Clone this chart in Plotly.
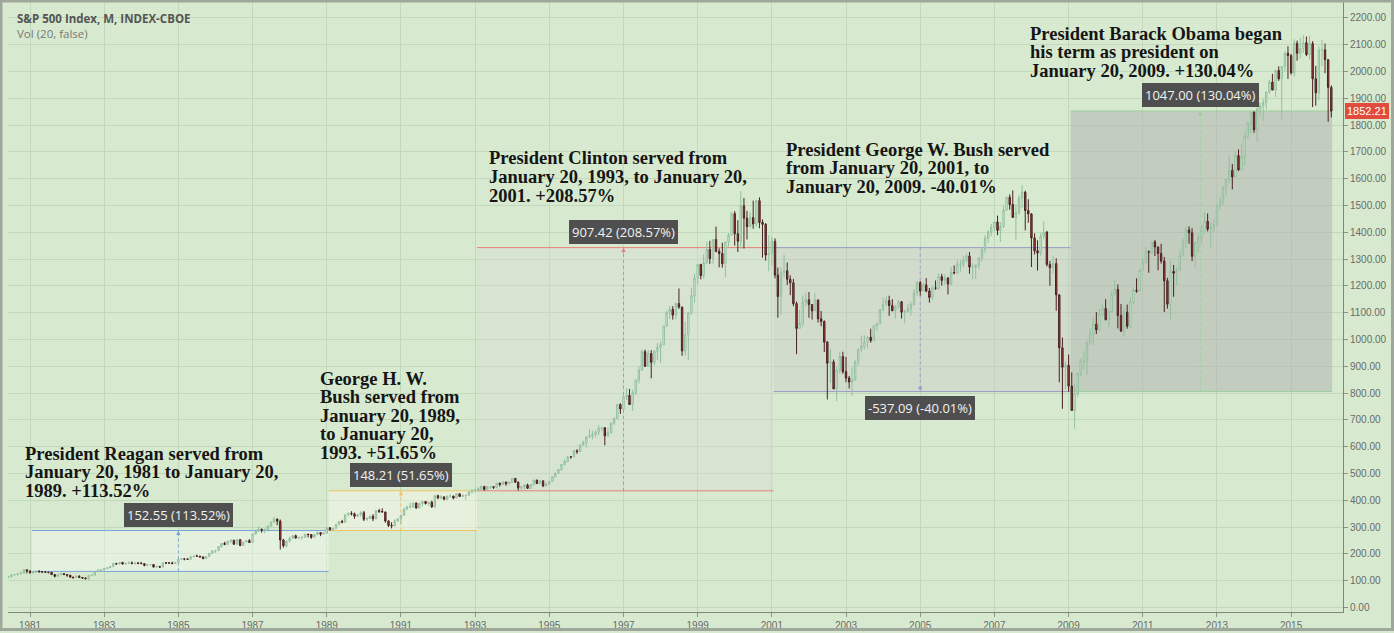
import plotly.graph_objects as go
import pandas as pd

# ---------------- data (monthly S&P 500, Jun 1980 - Feb 2016) ----------------
first_open = 111.24
close = [
    114.24, 121.67, 122.38, 125.46, 127.47, 140.52, 135.76,
    129.55, 131.27, 136.00, 132.81, 132.59, 131.21, 130.92, 122.79, 116.18, 121.89, 126.35, 122.55,
    120.40, 113.11, 111.96, 116.44, 111.88, 109.61, 107.09, 119.51, 120.42, 133.71, 138.54, 140.64,
    145.30, 148.06, 152.96, 164.42, 162.39, 168.11, 162.56, 164.40, 166.07, 163.55, 166.40, 164.93,
    163.41, 157.06, 159.18, 160.05, 150.55, 153.18, 150.66, 166.68, 166.10, 166.09, 163.58, 167.24,
    179.63, 181.18, 180.66, 179.83, 189.55, 191.85, 190.92, 188.63, 182.08, 189.82, 202.17, 211.28,
    211.78, 226.92, 238.90, 235.52, 247.35, 250.84, 236.12, 252.93, 231.32, 243.98, 249.22, 242.17,
    274.08, 284.20, 291.70, 288.36, 290.10, 304.00, 318.66, 329.80, 321.83, 251.79, 230.30, 247.08,
    257.07, 267.82, 258.89, 261.33, 262.16, 273.50, 272.02, 261.52, 271.91, 278.97, 273.70, 277.72,
    297.47, 288.86, 294.87, 309.64, 320.52, 317.98, 346.08, 351.45, 349.15, 340.36, 345.99, 353.40,
    329.08, 331.89, 339.94, 330.80, 361.23, 358.02, 356.15, 322.56, 306.05, 304.00, 322.22, 330.22,
    343.93, 367.07, 375.22, 375.35, 389.83, 371.16, 387.81, 395.43, 387.86, 392.46, 375.22, 417.09,
    408.79, 412.70, 403.69, 414.95, 415.35, 408.14, 424.21, 414.03, 417.80, 418.68, 431.35, 435.71,
    438.78, 443.38, 451.67, 440.19, 450.19, 450.53, 448.13, 463.56, 458.93, 467.83, 461.79, 466.45,
    481.61, 467.14, 445.77, 450.91, 456.50, 444.27, 458.26, 475.49, 462.69, 472.35, 453.69, 459.27,
    470.42, 487.39, 500.71, 514.71, 533.40, 544.75, 562.06, 561.88, 584.41, 581.50, 605.37, 615.93,
    636.02, 640.43, 645.50, 654.17, 669.12, 670.63, 639.95, 651.99, 687.31, 705.27, 757.02, 740.74,
    786.16, 790.82, 757.12, 801.34, 848.28, 885.14, 954.31, 899.47, 947.28, 914.62, 955.40, 970.43,
    980.28, 1049.34, 1101.75, 1111.75, 1090.82, 1133.84, 1120.67, 957.28, 1017.01, 1098.67, 1163.63, 1229.23,
    1279.64, 1238.33, 1286.37, 1335.18, 1301.84, 1372.71, 1328.72, 1320.41, 1282.71, 1362.93, 1388.91, 1469.25,
    1394.46, 1366.42, 1498.58, 1452.43, 1420.60, 1454.60, 1430.83, 1517.68, 1436.51, 1429.40, 1314.95, 1320.28,
    1366.01, 1239.94, 1160.33, 1249.46, 1255.82, 1224.42, 1211.23, 1133.58, 1040.94, 1059.78, 1139.45, 1148.08,
    1130.20, 1106.73, 1147.39, 1076.92, 1067.14, 989.82, 911.62, 916.07, 815.28, 885.76, 936.31, 879.82,
    855.70, 841.15, 848.18, 916.92, 963.59, 974.50, 990.31, 1008.01, 995.97, 1050.71, 1058.20, 1111.92,
    1131.13, 1144.94, 1126.21, 1107.30, 1120.68, 1140.84, 1101.72, 1104.24, 1114.58, 1130.20, 1173.82, 1211.92,
    1181.27, 1203.60, 1180.59, 1156.85, 1191.50, 1191.33, 1234.18, 1220.33, 1228.81, 1207.01, 1249.48, 1248.29,
    1280.08, 1280.66, 1294.83, 1310.61, 1270.09, 1270.20, 1276.66, 1303.82, 1335.85, 1377.94, 1400.63, 1418.30,
    1438.24, 1406.82, 1420.86, 1482.37, 1530.62, 1503.35, 1455.27, 1473.99, 1526.75, 1549.38, 1481.14, 1468.36,
    1378.55, 1330.63, 1322.70, 1385.59, 1400.38, 1280.00, 1267.38, 1282.83, 1166.36, 968.75, 896.24, 903.25,
    825.88, 735.09, 797.87, 872.81, 919.14, 919.32, 987.48, 1020.62, 1057.08, 1036.19, 1095.63, 1115.10,
    1073.87, 1104.49, 1169.43, 1186.69, 1089.41, 1030.71, 1101.60, 1049.33, 1141.20, 1183.26, 1180.55, 1257.64,
    1286.12, 1327.22, 1325.83, 1363.61, 1345.20, 1320.64, 1292.28, 1218.89, 1131.42, 1253.30, 1246.96, 1257.60,
    1312.41, 1365.68, 1408.47, 1397.91, 1310.33, 1362.16, 1379.32, 1406.58, 1440.67, 1412.16, 1416.18, 1426.19,
    1498.11, 1514.68, 1569.19, 1597.57, 1630.74, 1606.28, 1685.73, 1632.97, 1681.55, 1756.54, 1805.81, 1848.36,
    1782.59, 1859.45, 1872.34, 1883.95, 1923.57, 1960.23, 1930.67, 2003.37, 1972.29, 2018.05, 2067.56, 2058.90,
    1994.99, 2104.50, 2067.89, 2085.51, 2107.39, 2063.11, 2103.84, 1972.18, 1920.03, 2079.36, 2080.41, 2043.94,
    1940.24, 1852.21,
]
high = [
    117, 123, 126, 130, 134, 141, 141,
    139, 134, 137, 138, 134, 134, 133, 133, 124, 124, 127, 127,
    123, 121, 114, 119, 120, 112, 112, 120, 124, 137, 144, 144,
    147, 149, 154, 165, 166, 169, 170, 165, 172, 172, 168, 167,
    170, 164, 160, 162, 161, 155, 154, 168, 169, 168, 171, 168,
    180, 184, 184, 183, 190, 192, 197, 193, 190, 191, 203, 212,
    214, 227, 239, 245, 248, 251, 252, 254, 254, 244, 250, 255,
    275, 285, 302, 294, 295, 306, 320, 338, 331, 328, 256, 249,
    264, 268, 272, 264, 263, 274, 274, 274, 273, 284, 280, 280,
    298, 300, 298, 311, 323, 327, 347, 354, 359, 354, 347, 359,
    360, 337, 344, 348, 362, 368, 370, 357, 325, 318, 329, 333,
    345, 370, 380, 391, 391, 392, 391, 396, 396, 394, 398, 418,
    421, 418, 413, 418, 422, 417, 425, 425, 423, 419, 432, 441,
    443, 449, 456, 452, 454, 452, 452, 464, 465, 470, 469, 471,
    483, 483, 470, 453, 460, 462, 459, 477, 476, 474, 473, 466,
    473, 489, 504, 515, 534, 552, 564, 565, 587, 590, 608, 622,
    638, 665, 660, 660, 680, 673, 673, 670, 690, 709, 758, 762,
    794, 818, 815, 812, 850, 899, 962, 962, 960, 960, 961, 987,
    993, 1051, 1106, 1125, 1124, 1139, 1190, 1122, 1066, 1104, 1193, 1245,
    1280, 1282, 1317, 1363, 1368, 1373, 1421, 1340, 1361, 1365, 1397, 1474,
    1479, 1445, 1553, 1528, 1480, 1475, 1518, 1521, 1530, 1448, 1434, 1390,
    1383, 1377, 1268, 1270, 1316, 1287, 1239, 1226, 1141, 1110, 1164, 1173,
    1177, 1131, 1173, 1148, 1106, 1071, 994, 965, 925, 901, 954, 954,
    935, 864, 895, 924, 965, 1015, 1015, 1012, 1040, 1054, 1063, 1112,
    1155, 1159, 1163, 1150, 1128, 1147, 1142, 1110, 1132, 1141, 1188, 1218,
    1218, 1212, 1229, 1192, 1199, 1220, 1246, 1245, 1243, 1233, 1270, 1276,
    1295, 1297, 1311, 1319, 1326, 1285, 1281, 1307, 1340, 1389, 1407, 1431,
    1441, 1462, 1438, 1499, 1533, 1541, 1556, 1504, 1538, 1576, 1555, 1523,
    1471, 1396, 1370, 1397, 1441, 1405, 1293, 1314, 1303, 1167, 1007, 918,
    944, 877, 833, 877, 930, 956, 996, 1040, 1081, 1102, 1114, 1130,
    1150, 1113, 1181, 1220, 1205, 1132, 1120, 1130, 1158, 1196, 1228, 1263,
    1302, 1344, 1332, 1364, 1371, 1346, 1357, 1308, 1230, 1293, 1278, 1269,
    1333, 1378, 1420, 1422, 1415, 1364, 1392, 1427, 1475, 1470, 1438, 1448,
    1504, 1530, 1570, 1598, 1688, 1655, 1698, 1709, 1730, 1775, 1814, 1849,
    1850, 1867, 1884, 1897, 1925, 1968, 1991, 2006, 2019, 2019, 2075, 2094,
    2065, 2120, 2115, 2126, 2135, 2130, 2133, 2113, 2021, 2094, 2117, 2104,
    2044, 1948,
]
low = [
    110, 113, 118, 119, 124, 126, 127,
    126, 126, 130, 131, 128, 129, 127, 122, 112, 116, 121, 122,
    114, 111, 107, 111, 111, 106, 106, 101, 117, 120, 131, 136,
    138, 143, 147, 150, 159, 160, 160, 159, 163, 162, 161, 161,
    163, 153, 153, 157, 150, 149, 147, 150, 162, 162, 162, 162,
    163, 178, 176, 177, 178, 186, 189, 186, 180, 181, 189, 200,
    203, 211, 224, 232, 234, 240, 233, 235, 228, 230, 243, 241,
    242, 272, 283, 279, 277, 289, 302, 317, 307, 216, 223, 224,
    242, 255, 257, 255, 253, 259, 261, 256, 261, 270, 266, 271,
    274, 288, 287, 294, 306, 314, 316, 339, 343, 331, 337, 339,
    322, 323, 330, 322, 329, 352, 355, 316, 300, 295, 303, 320,
    311, 343, 363, 370, 371, 368, 370, 377, 384, 379, 372, 372,
    404, 404, 400, 400, 410, 403, 408, 413, 413, 402, 418, 425,
    426, 433, 437, 436, 437, 442, 442, 444, 451, 456, 454, 460,
    464, 465, 436, 435, 440, 442, 444, 455, 460, 459, 449, 452,
    457, 469, 485, 500, 510, 530, 542, 555, 561, 573, 581, 605,
    597, 634, 627, 634, 642, 658, 605, 638, 648, 681, 702, 722,
    737, 774, 756, 733, 793, 836, 882, 899, 898, 855, 904, 923,
    912, 979, 1047, 1076, 1074, 1075, 1114, 939, 940, 923, 1092, 1137,
    1205, 1224, 1227, 1282, 1282, 1282, 1325, 1269, 1268, 1233, 1347, 1387,
    1350, 1326, 1339, 1339, 1373, 1418, 1413, 1420, 1415, 1305, 1294, 1254,
    1275, 1228, 1081, 1091, 1232, 1203, 1165, 1124, 945, 1040, 1048, 1123,
    1081, 1074, 1106, 1063, 1049, 953, 776, 838, 815, 769, 872, 872,
    840, 817, 789, 848, 902, 952, 962, 966, 988, 995, 1031, 1057,
    1105, 1124, 1088, 1105, 1077, 1114, 1078, 1060, 1099, 1090, 1128, 1162,
    1163, 1180, 1176, 1137, 1146, 1185, 1184, 1201, 1205, 1168, 1201, 1243,
    1245, 1253, 1268, 1288, 1245, 1224, 1225, 1262, 1291, 1323, 1360, 1385,
    1403, 1389, 1364, 1416, 1480, 1484, 1454, 1371, 1465, 1490, 1407, 1435,
    1270, 1317, 1257, 1312, 1374, 1272, 1200, 1247, 1107, 840, 741, 815,
    805, 734, 667, 784, 861, 889, 869, 978, 979, 1020, 1030, 1086,
    1071, 1045, 1102, 1164, 1041, 1029, 1011, 1040, 1041, 1131, 1174, 1179,
    1257, 1284, 1249, 1319, 1311, 1258, 1283, 1102, 1115, 1075, 1159, 1202,
    1257, 1312, 1341, 1357, 1292, 1267, 1325, 1355, 1397, 1403, 1344, 1398,
    1426, 1485, 1501, 1536, 1582, 1560, 1605, 1628, 1631, 1647, 1747, 1768,
    1771, 1738, 1834, 1815, 1859, 1915, 1930, 1905, 1965, 1821, 2001, 1972,
    1988, 1981, 2040, 2048, 2068, 2057, 2045, 1867, 1872, 1893, 2019, 1993,
    1812, 1828,
]
month = pd.date_range("1980-06-01", periods=len(close), freq="MS")
open_ = [first_open] + close[:-1]

# presidential terms (price-range tool measurements)
term_start = ["1981-01-20", "1989-01-20", "1993-01-20", "2001-01-20", "2009-01-20"]
term_end = ["1989-01-20", "1993-01-20", "2001-01-20", "2009-01-20", "2016-02-09"]
price_start = [134.38, 286.93, 435.14, 1342.56, 805.47]
price_end = [286.93, 435.14, 1342.56, 805.47, 1852.47]
arrow_date = ["1985-01-01", "1991-01-01", "1997-01-01", "2005-01-01", "2012-07-20"]
change_label = ["152.55 (113.52%)", "148.21 (51.65%)", "907.42 (208.57%)",
                "-537.09 (-40.01%)", "1047.00 (130.04%)"]
term_text = [
    ["President Reagan served from", "January 20, 1981 to January 20,", "1989. +113.52%"],
    ["George H. W.", "Bush served from", "January 20, 1989,", "to January 20,", "1993. +51.65%"],
    ["President Clinton served from", "January 20, 1993, to January 20,", "2001. +208.57%"],
    ["President George W. Bush served", "from January 20, 2001, to", "January 20, 2009. -40.01%"],
    ["President Barack Obama began", "his term as president on", "January 20, 2009. +130.04%"],
]
last_price = 1852.21

# ---------------- styling ----------------
BG = "#d7eacf"
GRID = "#c2d8bb"
line_col = ["#7aa6d6", "#f0c468", "#e8827a", "#9b9bc9", "#9ccf9c"]
fill_col = ["rgba(245,250,242,0.45)", "rgba(248,248,236,0.45)", "rgba(215,218,212,0.35)",
            "rgba(200,200,200,0.42)", "rgba(178,180,178,0.55)"]
text_left_px = [23, 318, 487, 784, 1028]
text_top_px = [455, 380, 159, 150, 34]
LINE_STEP = 18.6

W, H = 1394, 633
ML, MR, MT, MB = 8, 51, 2, 19
PW, PH = W - ML - MR, H - MT - MB


def fx(px):
    return (px - ML) / PW


def fy(py):
    return (H - MB - py) / PH


fig = go.Figure()
fig.add_trace(go.Candlestick(
    x=month, open=open_, high=high, low=low, close=close,
    increasing=dict(line=dict(color="#93bf9e", width=1), fillcolor="#dcf1df"),
    decreasing=dict(line=dict(color="#4a2020", width=1), fillcolor="#b03a38"),
    whiskerwidth=0, showlegend=False, hoverinfo="skip",
))

shapes = []
annotations = []
for i in range(5):
    y0, y1 = price_start[i], price_end[i]
    shapes.append(dict(type="rect", xref="x", yref="y", x0=term_start[i], x1=term_end[i],
                       y0=min(y0, y1), y1=max(y0, y1), fillcolor=fill_col[i],
                       line=dict(width=0), layer="between"))
    for yy in (y0, y1):
        shapes.append(dict(type="line", xref="x", yref="y", x0=term_start[i], x1=term_end[i],
                           y0=yy, y1=yy, line=dict(color=line_col[i], width=1), layer="between"))
    shapes.append(dict(type="line", xref="x", yref="y", x0=arrow_date[i], x1=arrow_date[i],
                       y0=y0, y1=y1, line=dict(color=line_col[i], width=1, dash="dot"),
                       layer="between"))
    up = y1 > y0
    annotations.append(dict(x=arrow_date[i], y=y1, xref="x", yref="y", text="",
                            showarrow=True, ax=0, ay=7 if up else -7, arrowhead=2,
                            arrowsize=0.9, arrowwidth=1, arrowcolor=line_col[i]))
    annotations.append(dict(x=arrow_date[i], y=y1, xref="x", yref="y",
                            text=change_label[i], showarrow=False,
                            yshift=16 if up else -16,
                            font=dict(family="Open Sans", size=13, color="#f2f2f2"),
                            bgcolor="#4f4f4f", bordercolor="#4f4f4f", borderpad=2))
    for k, t in enumerate(term_text[i]):
        annotations.append(dict(x=fx(text_left_px[i]), y=fy(text_top_px[i] + k * LINE_STEP),
                                xref="paper", yref="paper", xanchor="left", yanchor="middle",
                                text=t, showarrow=False,
                                font=dict(family="Liberation Serif", size=18.5, color="#151515",
                                          weight="bold")))

# header
annotations.append(dict(x=fx(15), y=fy(19), xref="paper", yref="paper", xanchor="left",
                        yanchor="middle", text="<b>S&P 500 Index, M, INDEX-CBOE</b>",
                        showarrow=False, font=dict(family="Open Sans", size=11.5, color="#555")))
annotations.append(dict(x=fx(15), y=fy(34), xref="paper", yref="paper", xanchor="left",
                        yanchor="middle", text="Vol (20, false)", showarrow=False,
                        font=dict(family="Open Sans", size=11.5, color="#777")))
# last price tag
annotations.append(dict(x=1, y=last_price, xref="paper", yref="y", xanchor="left",
                        yanchor="middle", xshift=2, text="1852.21", showarrow=False,
                        font=dict(family="Liberation Sans", size=11, color="white"),
                        bgcolor="#e04b3e", bordercolor="#e04b3e", borderpad=1))

# outer border of the picture
shapes.append(dict(type="rect", xref="paper", yref="paper", x0=fx(1), x1=fx(W - 1.5),
                   y0=fy(H - 1.5), y1=fy(1), line=dict(color="#9fa79c", width=3),
                   fillcolor="rgba(0,0,0,0)", layer="above"))

fig.update_layout(
    width=W, height=H, margin=dict(l=ML, r=MR, t=MT, b=MB),
    paper_bgcolor=BG, plot_bgcolor=BG, shapes=shapes, annotations=annotations,
    showlegend=False,
    xaxis=dict(type="date", range=["1980-05-29", "2016-05-26"], tick0="1981-01-01",
               dtick="M24", tickformat="%Y", showgrid=True, gridcolor=GRID, gridwidth=1,
               ticks="outside", ticklen=4, tickcolor="#8a948a", showline=True,
               linecolor="#7d887a", linewidth=1, zeroline=False,
               tickfont=dict(family="Liberation Sans", size=10, color="#6a6a6a"),
               rangeslider=dict(visible=False), fixedrange=True),
    yaxis=dict(side="right", range=[-17, 2259], tick0=0, dtick=100, tickformat=".2f",
               showgrid=True, gridcolor=GRID, gridwidth=1, ticks="outside", ticklen=4,
               tickcolor="#8a948a", showline=True, linecolor="#7d887a", linewidth=1,
               zeroline=False, tickfont=dict(family="Liberation Sans", size=10, color="#6a6a6a")),
)

fig.write_html("out.html", config={"displayModeBar": False},
               post_script="document.body.style.margin='0';document.body.style.overflow='hidden';")
